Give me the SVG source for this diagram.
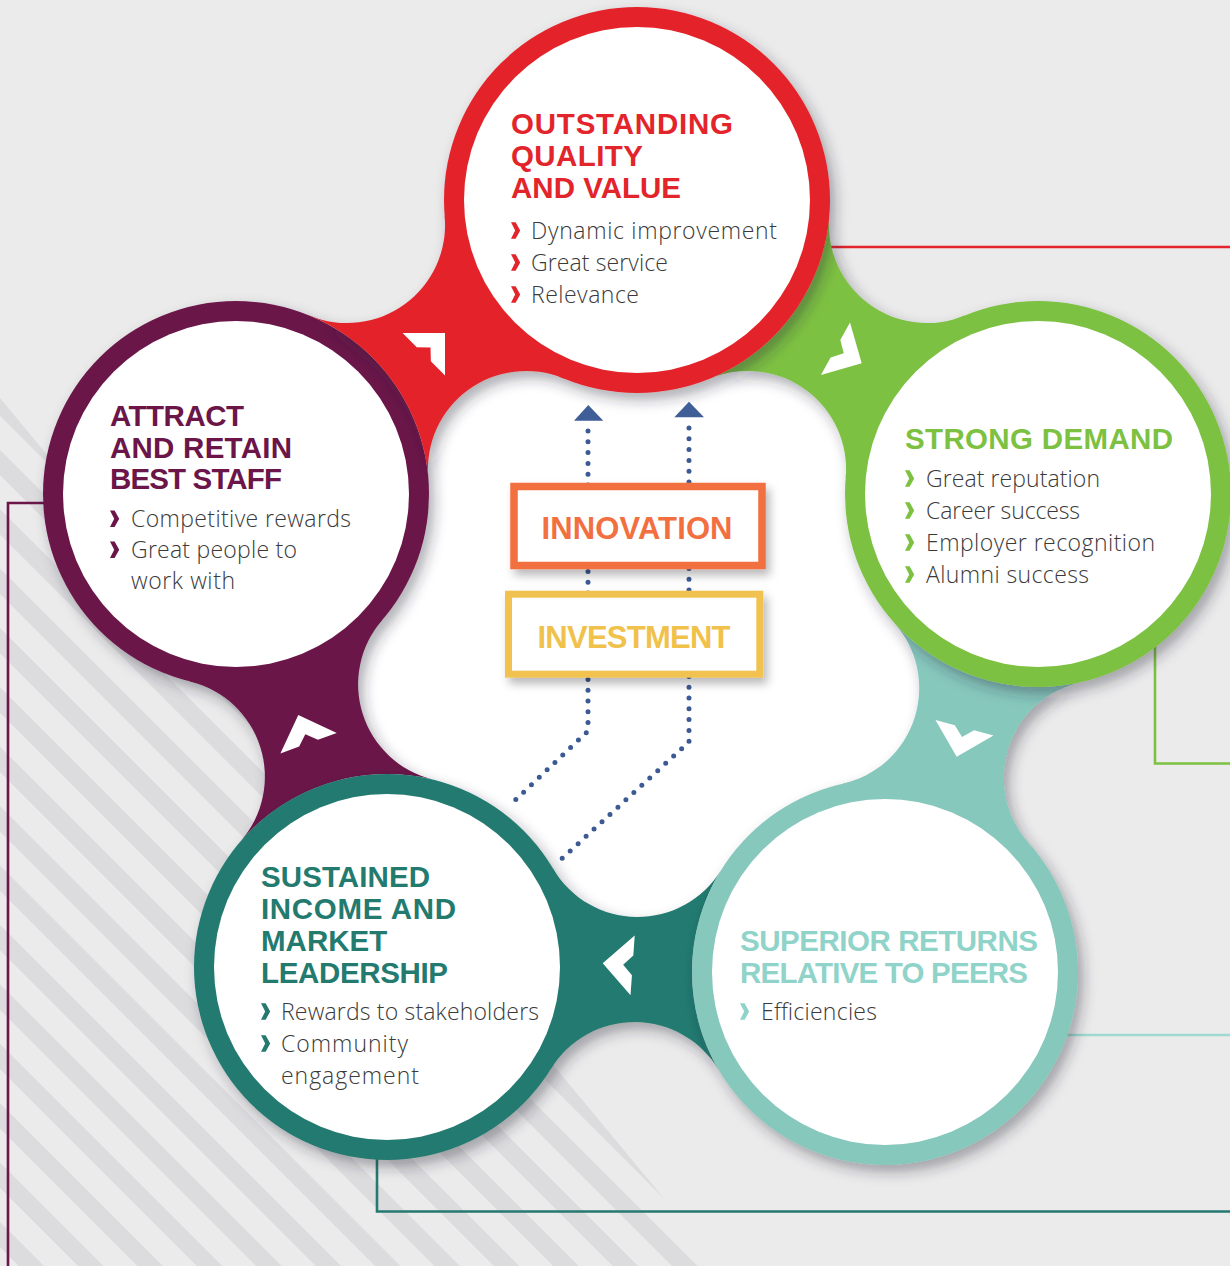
<svg xmlns="http://www.w3.org/2000/svg" width="1230" height="1266" viewBox="0 0 1230 1266">
<defs>
<pattern id="stripes" patternUnits="userSpaceOnUse" width="42" height="42" patternTransform="rotate(-45)">
<rect width="42" height="42" fill="#ebebeb"/>
<rect width="18" height="42" fill="#dcdcde"/>
</pattern>
<clipPath id="stripeClip"><polygon points="0,398 720,1266 0,1266"/></clipPath>
<filter id="sh" x="-30%" y="-30%" width="160%" height="160%"><feDropShadow dx="5" dy="7" stdDeviation="7" flood-color="#2a2a3a" flood-opacity="0.38"/></filter>
<filter id="boxsh" x="-20%" y="-30%" width="140%" height="160%"><feDropShadow dx="4" dy="6" stdDeviation="5" flood-color="#000" flood-opacity="0.28"/></filter>
<path id="chev" d="M0,0 L-30,-30 L-30,-10 L-20.5,0 L-30,10 L-30,30 Z" fill="#fff"/>
<path id="bul" d="M0,0 L4.6,0 L9.2,8.2 L4.6,16.4 L0,16.4 L4.2,8.2 Z"/>
</defs>
<style>
.title{font-family:"Liberation Sans",Arial,sans-serif;font-weight:700;font-size:29.5px}
.body{font-family:"Open Sans","Noto Sans",sans-serif;font-weight:300;font-size:23px;fill:#3a3a3a}
.box{font-family:"Liberation Sans",Arial,sans-serif;font-weight:700;font-size:31px}
.ln{fill:none;stroke-width:2.6}
.dots{fill:none;stroke:#3b5a94;stroke-width:5;stroke-linecap:round;stroke-dasharray:0 10.8}
</style>

<rect width="1230" height="1266" fill="#ebebeb"/>
<rect width="1230" height="1266" fill="url(#stripes)" clip-path="url(#stripeClip)"/>

<g id="lines">
<path class="ln" stroke="#e3242b" d="M800,247 H1230"/>
<path class="ln" stroke="#7dc142" d="M1155,640 V763.5 H1230"/>
<path class="ln" stroke="#9fd9d0" stroke-width="3" d="M1050,1035 H1230"/>
<path class="ln" stroke="#247a70" d="M377,1140 V1211.5 H1230"/>
<path class="ln" stroke="#6b1548" d="M60,503 H8 V1266"/>
</g>

<polygon id="center" points="236,494 637,200 1038,494 885,972 387,967" fill="#fff"/>

<g id="node-attract">
<g filter="url(#sh)">
<path fill="#6b1548" d="M241,840.8 A98,98 0 0 0 190.2,681.5 L236,494 L382,620.2 A98,98 0 0 0 432.8,779.5 A193,193 0 0 0 241,840.8 Z"/>
<circle cx="236" cy="494" r="193" fill="#6b1548"/>
<circle cx="236" cy="494" r="173" fill="#fff"/>
</g>
<g fill="#6b1548">
<text class="title" x="110" y="426" textLength="134">ATTRACT</text>
<text class="title" x="110" y="457.5" textLength="182">AND RETAIN</text>
<text class="title" x="110" y="489" textLength="172">BEST STAFF</text>
<use href="#bul" x="110" y="510.5"/>
<use href="#bul" x="110" y="541.5"/>
</g>
<text class="body" x="131" y="526.7" textLength="220">Competitive rewards</text>
<text class="body" x="131" y="557.5" textLength="166">Great people to</text>
<text class="body" x="131" y="589" textLength="104">work with</text>
</g>

<g id="node-sustained">
<g filter="url(#sh)">
<path fill="#237a6f" d="M718.9,1070.2 A98,98 0 0 0 551.1,1068.5 L387,967 L553.1,868.8 A98,98 0 0 0 720.9,870.5 A193,193 0 0 0 718.9,1070.2 Z"/>
<circle cx="387" cy="967" r="193" fill="#237a6f"/>
<circle cx="387" cy="967" r="173" fill="#fff"/>
</g>
<g fill="#237a6f">
<text class="title" x="261" y="886.5" textLength="169">SUSTAINED</text>
<text class="title" x="261" y="918.5" textLength="195">INCOME AND</text>
<text class="title" x="261" y="950.5">MARKET</text>
<text class="title" x="261" y="982.5" textLength="187">LEADERSHIP</text>
<use href="#bul" x="261" y="1003.3"/>
<use href="#bul" x="261" y="1035.3"/>
</g>
<text class="body" x="281" y="1019.5" textLength="258">Rewards to stakeholders</text>
<text class="body" x="281" y="1051.5" textLength="127">Community</text>
<text class="body" x="281" y="1083.5" textLength="138">engagement</text>
</g>

<g id="node-superior">
<g filter="url(#sh)">
<path fill="#87c8bd" d="M1080.3,682.3 A98,98 0 0 0 1028.8,843.3 L885,972 L842.7,783.7 A98,98 0 0 0 894.2,622.7 A193,193 0 0 0 1080.3,682.3 Z"/>
<circle cx="885" cy="972" r="193" fill="#87c8bd"/>
<circle cx="885" cy="972" r="173" fill="#fff"/>
</g>
<g fill="#8fd3c9">
<text class="title" x="740" y="950.5" textLength="298">SUPERIOR RETURNS</text>
<text class="title" x="740" y="982.5" textLength="288">RELATIVE TO PEERS</text>
<use href="#bul" x="740" y="1003.3"/>
</g>
<text class="body" x="761" y="1019.5" textLength="116">Efficiencies</text>
</g>

<g id="node-demand">
<g filter="url(#sh)">
<path fill="#7dc142" d="M829.3,216.6 A98,98 0 0 0 964.4,315.6 L1038,494 L845.7,477.4 A98,98 0 0 0 710.6,378.4 A193,193 0 0 0 829.3,216.6 Z"/>
<circle cx="1038" cy="494" r="193" fill="#7dc142"/>
<circle cx="1038" cy="494" r="173" fill="#fff"/>
</g>
<g fill="#7dc142">
<text class="title" x="905" y="448.5" textLength="268">STRONG DEMAND</text>
<use href="#bul" x="905" y="470.3"/>
<use href="#bul" x="905" y="502.3"/>
<use href="#bul" x="905" y="534.3"/>
<use href="#bul" x="905" y="566.3"/>
</g>
<text class="body" x="926" y="486.5" textLength="174">Great reputation</text>
<text class="body" x="926" y="518.5" textLength="154">Career success</text>
<text class="body" x="926" y="550.5" textLength="229">Employer recognition</text>
<text class="body" x="926" y="582.5" textLength="163">Alumni success</text>
</g>

<g id="node-quality">
<g filter="url(#sh)">
<path fill="#e3242b" d="M309.6,315.6 A98,98 0 0 0 444.7,216.6 L637,200 L563.4,378.4 A98,98 0 0 0 428.3,477.4 A193,193 0 0 0 309.6,315.6 Z"/>
<circle cx="637" cy="200" r="193" fill="#e3242b"/>
<circle cx="637" cy="200" r="173" fill="#fff"/>
</g>
<g fill="#e3242b">
<text class="title" x="511" y="133.5" textLength="222">OUTSTANDING</text>
<text class="title" x="511" y="165.5" textLength="132">QUALITY</text>
<text class="title" x="511" y="197.5" textLength="170">AND VALUE</text>
<use href="#bul" x="511" y="222.3"/>
<use href="#bul" x="511" y="254.3"/>
<use href="#bul" x="511" y="286.3"/>
</g>
<text class="body" x="531" y="238.5" textLength="246">Dynamic improvement</text>
<text class="body" x="531" y="270.5" textLength="137">Great service</text>
<text class="body" x="531" y="302.5" textLength="108">Relevance</text>
</g>

<g id="chevrons">
<use href="#chev" transform="translate(445,333) rotate(-45)"/>
<use href="#chev" transform="translate(861.7,363.3) rotate(29)"/>
<use href="#chev" transform="translate(956.7,756.7) rotate(105)"/>
<use href="#chev" transform="translate(602.7,963.3) rotate(184)"/>
<use href="#chev" transform="translate(298.3,715) rotate(-110)"/>
</g>

<g id="connectors">
<path class="dots" d="M588,431 V731 L508,807"/>
<path class="dots" d="M689,428 V742 L557,863"/>
<polygon points="574,420.7 603.3,420.7 588.3,405" fill="#3f5e98"/>
<polygon points="674.3,417.3 704,417.3 689,401.7" fill="#3f5e98"/>
</g>

<g id="node-innovation">
<rect x="514" y="486.5" width="248" height="79" fill="#fff" stroke="#f26f3f" stroke-width="7.5" filter="url(#boxsh)"/>
<text class="box" x="637" y="539.3" text-anchor="middle" fill="#f26f3f" textLength="191">INNOVATION</text>
</g>
<g id="node-investment">
<rect x="508.5" y="594.2" width="251.3" height="80" fill="#fff" stroke="#f1c24f" stroke-width="7" filter="url(#boxsh)"/>
<text class="box" x="634" y="647.7" text-anchor="middle" fill="#f0c14b" textLength="193">INVESTMENT</text>
</g>
</svg>
